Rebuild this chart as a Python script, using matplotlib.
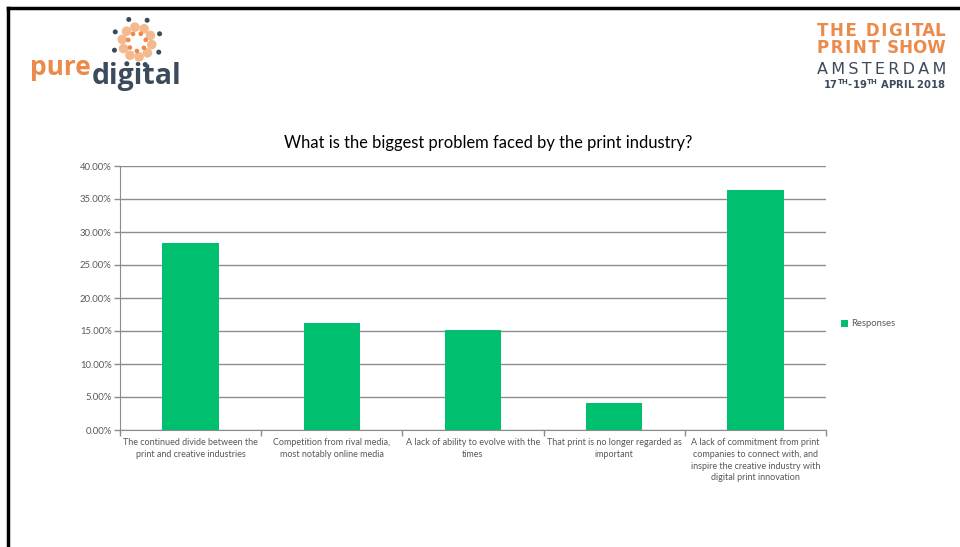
import numpy as np
import matplotlib.pyplot as plt
from matplotlib.patches import Circle
from matplotlib.ticker import PercentFormatter, FixedLocator

plt.rcParams['font.family'] = ['Lato', 'DejaVu Sans']

# Survey results
categories = [
    "The continued divide between the\nprint and creative industries",
    "Competition from rival media,\nmost notably online media",
    "A lack of ability to evolve with the\ntimes",
    "That print is no longer regarded as\nimportant",
    "A lack of commitment from print\ncompanies to connect with, and\ninspire the creative industry with\ndigital print innovation",
]
responses = [28.28, 16.16, 15.15, 4.04, 36.36]
yticks = [0, 5, 10, 15, 20, 25, 30, 35, 40]

green = '#00bf6f'
orange = '#ec8a4c'
peach = '#f5b98f'
navy = '#3b4b5c'
grey = '#595959'

W, H = 960, 547
fig = plt.figure(figsize=(W / 100, H / 100), dpi=100)
renderer = fig.canvas.get_renderer()

# main bar chart
ax = fig.add_axes([120 / W, 1 - 430 / H, 706 / W, 264 / H])
x = np.arange(len(categories))
ax.bar(x, responses, width=0.4, color=green, label='Responses', zorder=3)
ax.set_xlim(-0.5, len(categories) - 0.5)
ax.set_ylim(0, 40)
ax.yaxis.set_major_locator(FixedLocator(yticks))
ax.yaxis.set_major_formatter(PercentFormatter(xmax=100, decimals=2))
ax.grid(axis='y', color='#8c8c8c', linewidth=1, zorder=0)
for side in ['top', 'right']:
    ax.spines[side].set_visible(False)
for side in ['left', 'bottom']:
    ax.spines[side].set_color('#8c8c8c')
ax.tick_params(axis='y', labelsize=6.8, colors='#8c8c8c', labelcolor=grey,
               length=4, width=1, pad=2)
ax.set_xticks(x)
ax.set_xticklabels(categories, fontsize=6.5, color=grey, linespacing=1.38)
ax.tick_params(axis='x', length=0, pad=6)
ax.set_xticks(np.arange(-0.5, len(categories)), minor=True)
ax.tick_params(axis='x', which='minor', length=4, width=1, colors='#8c8c8c')

fig.text(488 / W, 1 - 148 / H,
         'What is the biggest problem faced by the print industry?',
         fontsize=11.9, color='black', ha='center', va='baseline')

ax.legend(loc='center left', bbox_to_anchor=(832 / W, 1 - 324 / H),
          bbox_transform=fig.transFigure, frameon=False, fontsize=6.8,
          handlelength=0.75, handleheight=0.75, handletextpad=0.4,
          labelcolor=grey)

# overlay in pixel coordinates for the frame and logos
ov = fig.add_axes([0, 0, 1, 1], zorder=-1)
ov.set_xlim(0, W)
ov.set_ylim(H, 0)
ov.axis('off')
ov.plot([8, 8], [H, 8], color='black', lw=2.5, solid_capstyle='projecting')
ov.plot([8, W], [8, 8], color='black', lw=2.5, solid_capstyle='projecting')

HAIR = '\u200a'


def spread(s, target, **kw):
    # pad s with hair spaces between letters until it is target px wide
    probe = ov.text(0, 0, s, **kw)
    gaps = len(s) - 1
    out = s
    for k in range(400):
        n = [k // gaps + (1 if i < k % gaps else 0) for i in range(gaps)]
        out = s[0] + ''.join(HAIR * n[i] + s[i + 1] for i in range(gaps))
        probe.set_text(out)
        if probe.get_window_extent(renderer).width >= target:
            break
    probe.remove()
    return out


# pure digital mark
cx, cy = 137, 42
for i in range(10):
    a = np.deg2rad(i * 36 + 10)
    ov.add_patch(Circle((cx + 15 * np.cos(a), cy + 15 * np.sin(a)), 4.8,
                        color=peach, lw=0))
for i in range(8):
    a = np.deg2rad(i * 45 + 25)
    ov.add_patch(Circle((cx + 24 * np.cos(a), cy + 24 * np.sin(a)), 2.5,
                        color=navy, lw=0))
for i in range(7):
    a = np.deg2rad(i * 51 + 40)
    ov.add_patch(Circle((cx + 9 * np.cos(a), cy + 9 * np.sin(a)), 2.3,
                        color=orange, lw=0))
ov.text(30, 75, 'pure', color=orange, fontsize=19, fontweight='bold',
        ha='left', va='baseline', family='Open Sans')
ov.text(92, 84, 'digital', color=navy, fontsize=20.5, fontweight='bold',
        ha='left', va='baseline', family='Open Sans')

# show logo
show_kw = dict(color=orange, fontsize=12, fontweight='bold',
               family='DejaVu Sans')
show_lines = [spread(s, 128, **show_kw) for s in ['THE DIGITAL', 'PRINT SHOW']]
ov.text(946, 53, '\n'.join(show_lines), ha='right', va='baseline',
        multialignment='right', linespacing=0.9, **show_kw)
city_kw = dict(color=navy, fontsize=11.5, family='DejaVu Sans')
ov.text(946, 74, spread('AMSTERDAM', 128, **city_kw), ha='right',
        va='baseline', **city_kw)
ov.text(946, 89, r'17$^{\mathregular{TH}}$-19$^{\mathregular{TH}}$ APRIL 2018',
        color=navy, fontsize=7.2, fontweight='bold', ha='right',
        va='baseline', family='DejaVu Sans')

fig.savefig('out.png', dpi=100)
